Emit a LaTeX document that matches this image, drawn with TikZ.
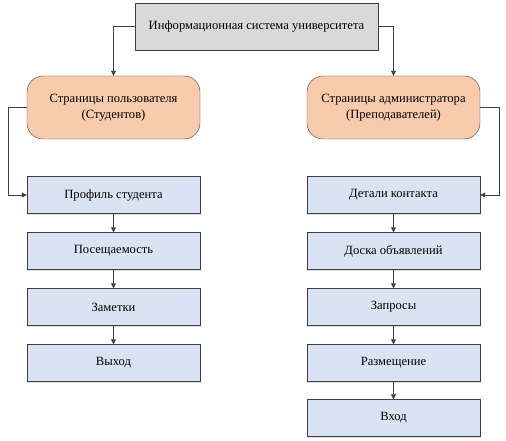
\documentclass[tikz,border=0pt]{standalone}
\usepackage{fontspec}
\setmainfont{Liberation Serif}
\usepackage{xcolor}
\usetikzlibrary{arrows.meta, positioning, shadows}

\definecolor{topgray}{HTML}{D9D9D9}
\definecolor{pageorange}{HTML}{F8CBAD}
\definecolor{itemblue}{HTML}{DAE3F3}
\definecolor{edgegray}{HTML}{3F3F3F}

\begin{document}
\begin{tikzpicture}[
        x=1pt, y=-1pt,
        font=\fontsize{12.6}{15.5}\selectfont,
        root/.style={rectangle, draw=edgegray, fill=topgray, minimum width=243pt, minimum height=47pt, align=center},
        page/.style={rectangle, rounded corners=16pt, draw=edgegray, fill=pageorange, minimum width=173pt, minimum height=63pt, align=center},
        item/.style={rectangle, draw=edgegray, fill=itemblue, minimum width=173pt, minimum height=37pt, align=center,
            drop shadow={shadow xshift=1pt, shadow yshift=-1.5pt, opacity=0.25}},
        arrow/.style={-{Triangle[length=5pt, width=5pt]}, edgegray, semithick}
    ]
    \useasboundingbox (0,0) rectangle (506,441);

    % Top level
    \node[root] (system) at (256.5,26.5) {Информационная система университета};

    % Pages
    \node[page] (userpages) at (113.5,107.5) {Страницы пользователя\\(Студентов)};
    \node[page] (adminpages) at (393.5,107.5) {Страницы администратора\\(Преподавателей)};

    % Student side
    \node[item] (profile) at (113.5,195) {Профиль студента};
    \node[item] (attendance) at (113.5,251) {Посещаемость};
    \node[item] (notes) at (113.5,307) {Заметки};
    \node[item] (logout) at (113.5,363) {Выход};

    % Teacher side
    \node[item] (contacts) at (393.5,195) {Детали контакта};
    \node[item] (board) at (393.5,251) {Доска объявлений};
    \node[item] (requests) at (393.5,307) {Запросы};
    \node[item] (placement) at (393.5,363) {Размещение};
    \node[item] (login) at (393.5,418) {Вход};

    % Arrows
    \draw[arrow] (system.west) -| (userpages.north);
    \draw[arrow] (system.east) -| (adminpages.north);
    \draw[arrow] (userpages.west) -- ++(-19,0) |- (profile.west);
    \draw[arrow] (adminpages.east) -- ++(19,0) |- (contacts.east);
    \draw[arrow] (profile) -- (attendance);
    \draw[arrow] (attendance) -- (notes);
    \draw[arrow] (notes) -- (logout);
    \draw[arrow] (contacts) -- (board);
    \draw[arrow] (board) -- (requests);
    \draw[arrow] (requests) -- (placement);
    \draw[arrow] (placement) -- (login);

\end{tikzpicture}
\end{document}
